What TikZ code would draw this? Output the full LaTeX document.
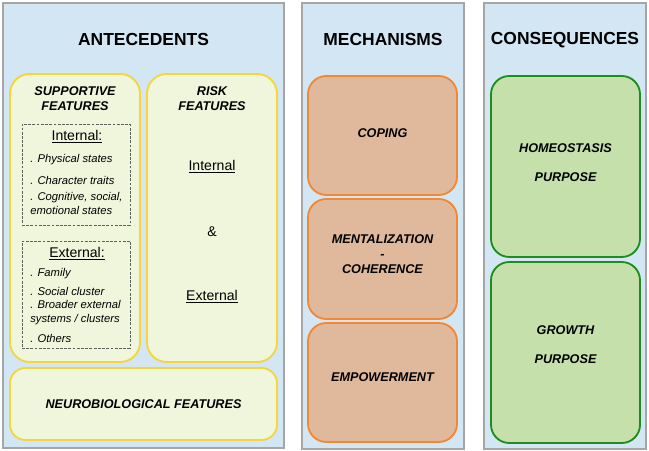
\documentclass[tikz,border=0pt]{standalone}
\usepackage{fontspec}
\setmainfont{Liberation Sans}
\definecolor{panelfill}{HTML}{D2E6F4}
\definecolor{panelline}{HTML}{A6A6A6}
\definecolor{yelfill}{HTML}{EFF6DC}
\definecolor{yelline}{HTML}{F7D33C}
\definecolor{orfill}{HTML}{E0B99D}
\definecolor{orline}{HTML}{F28734}
\definecolor{grfill}{HTML}{C6E0AC}
\definecolor{grline}{HTML}{1E8C1E}
\definecolor{dashline}{HTML}{606060}
\tikzset{
  sized/.style 2 args={minimum width=#1*0.025cm, minimum height=#2*0.025cm, inner sep=0pt},
  panel/.style={draw=panelline, fill=panelfill, line width=1pt},
  yelbox/.style={draw=yelline, fill=yelfill, line width=1.3pt, rounded corners=14pt},
  orbox/.style={draw=orline, fill=orfill, line width=1.3pt, rounded corners=13pt},
  grbox/.style={draw=grline, fill=grfill, line width=1.3pt, rounded corners=13pt},
  dashbox/.style={draw=dashline, line width=0.7pt, dash pattern=on 2pt off 1pt},
  title/.style={font=\fontsize{12.4}{14}\selectfont\bfseries},
  lbl/.style={font=\fontsize{9}{10.5}\selectfont\bfseries\itshape},
  sub/.style={font=\fontsize{10}{12}\selectfont},
  item/.style={font=\fontsize{8}{9.5}\selectfont\itshape, anchor=west, align=left, inner sep=0pt}
}
\begin{document}
\begin{tikzpicture}[x=0.025cm, y=-0.025cm]
\useasboundingbox (0,0) rectangle (649,451);

% Panels
\node[panel, sized={281}{445}] (ante) at (143.5,225.5) {};
\node[panel, sized={162}{446}] (mech) at (383,226) {};
\node[panel, sized={162}{446}] (cons) at (565,226) {};
\node[title] (antetitle) at (143.5,40) {ANTECEDENTS};
\node[title] (mechtitle) at (383,40) {MECHANISMS};
\node[title] (constitle) at (565,40) {CONSEQUENCES};

% Antecedents
\node[yelbox, sized={130}{288}] (supp) at (75,218) {};
\node[yelbox, sized={130}{288}] (risk) at (212,218) {};
\node[yelbox, rounded corners=11pt, sized={267}{72}] (neuro) at (143.5,404) {};
\node[lbl, align=center] (supptext) at (75,98.5) {SUPPORTIVE\\FEATURES};
\node[lbl, align=center] (risktext) at (212,98.5) {RISK\\FEATURES};
\node[lbl] (neurotext) at (143.5,404) {NEUROBIOLOGICAL FEATURES};

% Supportive: internal
\node[dashbox, sized={108}{101}] (intl) at (76,174.5) {};
\node[sub] (intltext) at (77,137) {\underline{Internal:}};
\node[item] (phys) at (30,160) {. Physical states};
\node[item] (char) at (30,180) {. Character traits};
\node[item] (cogn) at (30,203.5) {. Cognitive, social,\\emotional states};

% Supportive: external
\node[dashbox, sized={108}{107}] (extl) at (76,294.5) {};
\node[sub] (extltext) at (77,254) {\underline{External:}};
\node[item] (fam) at (30,274) {. Family};
\node[item] (soc) at (30,291) {. Social cluster};
\node[item] (broad) at (30,312.5) {. Broader external\\systems / clusters};
\node[item] (oth) at (30,338) {. Others};

% Risk
\node[sub] (riskin) at (212,167) {\underline{Internal}};
\node[sub] (riskand) at (212,232) {\&};
\node[sub] (riskex) at (212,297) {\underline{External}};

% Mechanisms
\node[orbox, sized={149}{119}] (coping) at (382.5,135.5) {};
\node[orbox, sized={149}{120}] (ment) at (382.5,259) {};
\node[orbox, sized={149}{119}] (empow) at (382.5,382.5) {};
\node[lbl] (copingtext) at (382.5,133) {COPING};
\node[lbl, align=center] (menttext) at (382.5,254) {MENTALIZATION\\-\\COHERENCE};
\node[lbl] (empowtext) at (382.5,377) {EMPOWERMENT};

% Consequences
\node[grbox, sized={149}{181}] (homeo) at (565.5,166.5) {};
\node[grbox, sized={149}{181}] (growth) at (565.5,352.5) {};
\node[lbl] (homeotext) at (565.5,148) {HOMEOSTASIS};
\node[lbl] (homeopurp) at (565.5,177) {PURPOSE};
\node[lbl] (growthtext) at (565.5,330) {GROWTH};
\node[lbl] (growthpurp) at (565.5,359) {PURPOSE};
\end{tikzpicture}
\end{document}
